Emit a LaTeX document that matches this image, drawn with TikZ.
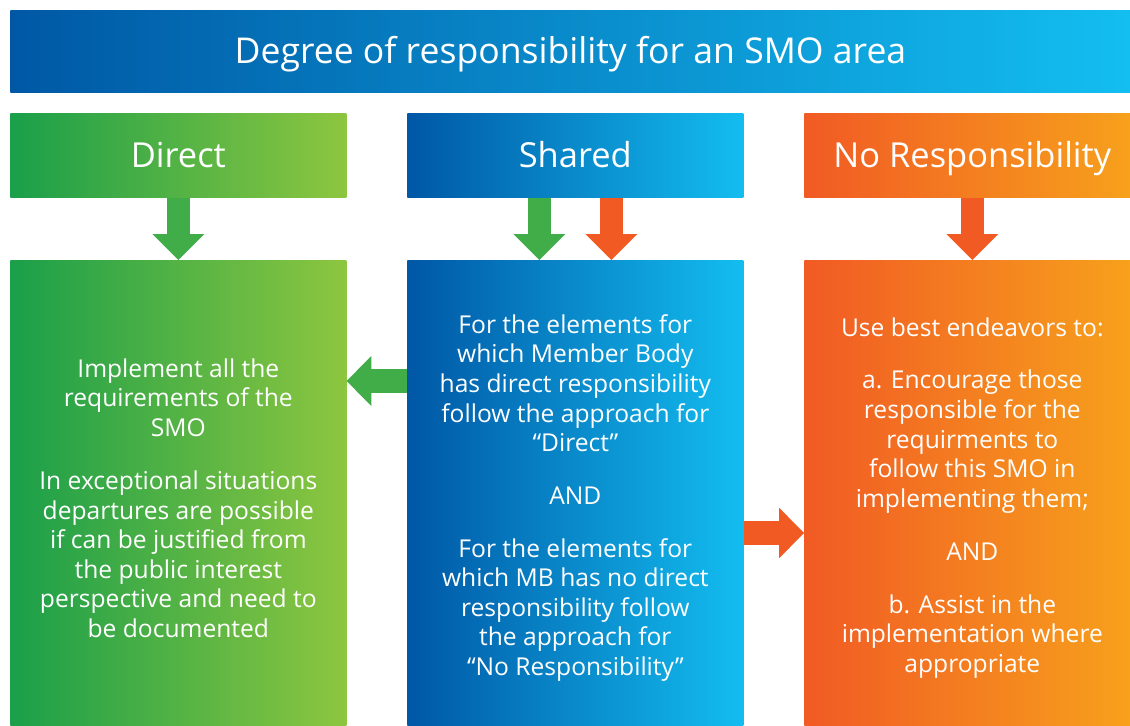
\documentclass[tikz,border=0pt]{standalone}
\usepackage{fontspec}
\setmainfont{Open Sans}
\usepackage{tikz}
\usetikzlibrary{arrows.meta,calc,positioning}
\definecolor{titleL}{HTML}{0058A5}
\definecolor{titleR}{HTML}{13BEF0}
\definecolor{greenL}{HTML}{1A9F4A}
\definecolor{greenR}{HTML}{8DC63F}
\definecolor{blueL}{HTML}{0057A6}
\definecolor{blueR}{HTML}{13BDF0}
\definecolor{orangeL}{HTML}{F15A24}
\definecolor{orangeR}{HTML}{F7A31C}
\definecolor{arrgreen}{HTML}{41AD49}
\definecolor{arrorange}{HTML}{F15A22}
\tikzset{
  titlebar/.style={
    anchor=north west, inner sep=0pt,
    minimum width=28cm, minimum height=2.05cm,
    left color=titleL, right color=titleR,
    text height=18pt, text depth=0pt,
    text=white, font=\fontsize{25.3}{30}\selectfont
  },
  headbox/.style={
    anchor=north west, inner sep=0pt,
    minimum width=8.4cm, minimum height=2.1cm,
    text height=17.5pt, text depth=0pt,
    text=white, font=\fontsize{24.5}{29}\selectfont
  },
  bodybox/.style={
    anchor=north west, inner sep=0pt,
    minimum width=8.4cm, minimum height=11.875cm,
    text=white, align=center, font=\fontsize{17.5}{21}\selectfont
  },
  greenfill/.style={left color=greenL, right color=greenR},
  bluefill/.style={left color=blueL, right color=blueR},
  orangefill/.style={left color=orangeL, right color=orangeR},
  downarrow/.style={
    line width=0.575cm,
    -{Triangle[width=1.3cm, length=0.65cm, line width=0pt]}
  },
  sidearrow/.style={
    line width=0.58cm,
    -{Triangle[width=1.26cm, length=0.62cm, line width=0pt]}
  }
}

\begin{document}
\begin{tikzpicture}[x=0.025cm, y=-0.025cm]
  \useasboundingbox (0,0) rectangle (1130,725);
  \clip (0,0) rectangle (1130,725);

  \node[titlebar] (title) at (10,10) {Degree of responsibility for an SMO area};

  % column headers
  \node[headbox, greenfill] (direct) at (10,113) {Direct};
  \node[headbox, bluefill] (shared) at (407,113) {Shared};
  \node[headbox, orangefill] (noresp) at (804,113) {No Responsibility};

  % column bodies
  \node[bodybox, greenfill] (directbody) at (10,260)
    {Implement all the\\requirements of the\\SMO\\[17pt]
     In exceptional situations\\departures are possible\\if can be justified from\\the public interest\\perspective and need to\\be documented};
  \node[bodybox, bluefill] (sharedbody) at (407,260)
    {For the elements for\\which Member Body\\has direct responsibility\\follow the approach for\\``Direct''\\[16.5pt]
     AND\\[16.5pt]
     For the elements for\\which MB has no direct\\responsibility follow\\the approach for\\``No Responsibility''};
  \node[bodybox, orangefill] (norespbody) at (804,260)
    {Use best endeavors to:\\[16.5pt]
     a. Encourage those\\responsible for the\\requirments to\\follow this SMO in\\implementing them;\\[17pt]
     AND\\[16.5pt]
     b. Assist in the\\implementation where\\appropriate};

  % arrows
  \draw[downarrow, arrgreen] (direct.south) -- (directbody.north);
  \draw[downarrow, arrgreen] ($(shared.south)+(-36,0)$) -- ($(sharedbody.north)+(-36,0)$);
  \draw[downarrow, arrorange] ($(shared.south)+(36,0)$) -- ($(sharedbody.north)+(36,0)$);
  \draw[downarrow, arrorange] (noresp.south) -- (norespbody.north);

  \coordinate (leftarr) at ($(sharedbody.north west)+(0,121)$);
  \coordinate (rightarr) at ($(sharedbody.north east)+(0,273)$);
  \draw[sidearrow, arrgreen] (leftarr) -- (leftarr -| directbody.east);
  \draw[sidearrow, arrorange] (rightarr) -- (rightarr -| norespbody.west);
\end{tikzpicture}
\end{document}
